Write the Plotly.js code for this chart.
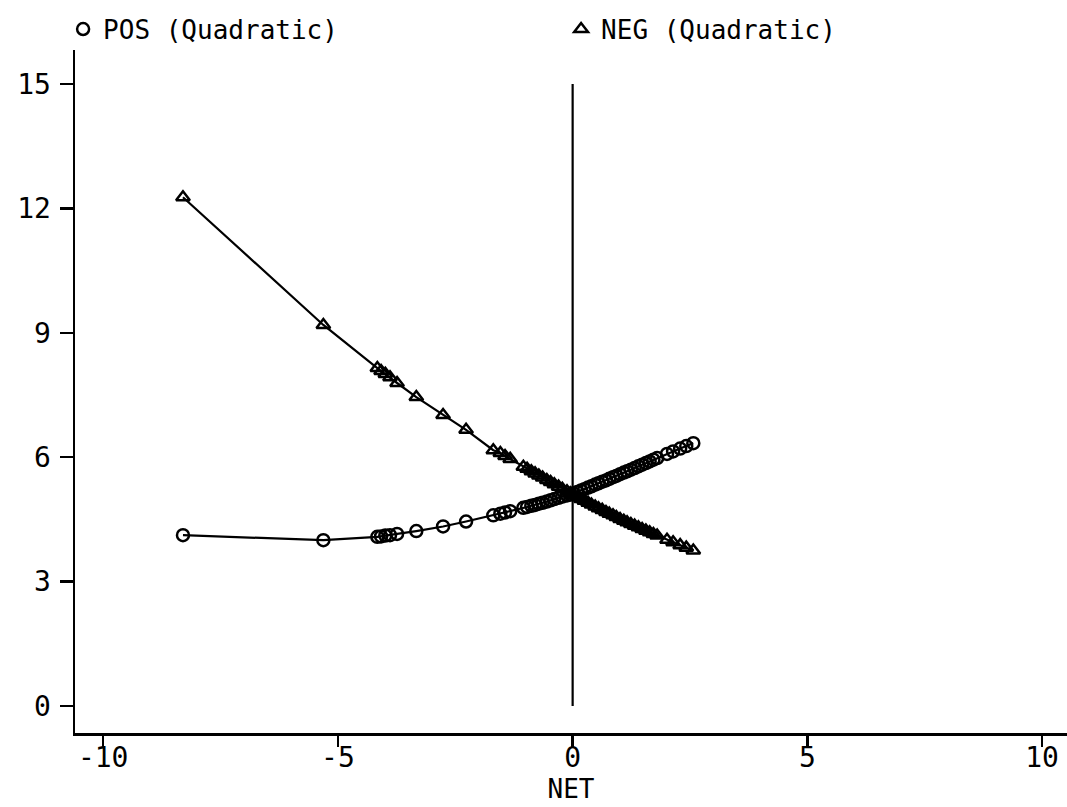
<!DOCTYPE html>
<html>
<head>
<meta charset="utf-8">
<script src="https://cdn.plot.ly/plotly-3.0.1.min.js"></script>
<style>html,body{margin:0;padding:0;background:#fff;}#chart{width:1067px;height:807px;}</style>
</head>
<body>
<div id="chart"></div>
<script>
// NET values (shared by both series)
const net = [-8.30, -5.31, -4.16, -4.08, -3.99, -3.89, -3.74, -3.33, -2.76, -2.27,
  -1.69, -1.54, -1.44, -1.33, -1.05, -0.97, -0.88, -0.80, -0.72, -0.64,
  -0.55, -0.47, -0.39, -0.30, -0.22, -0.12, -0.05, 0.02, 0.10, 0.18,
  0.25, 0.33, 0.40, 0.48, 0.55, 0.63, 0.71, 0.78, 0.86, 0.93,
  1.01, 1.09, 1.16, 1.24, 1.32, 1.40, 1.48, 1.56, 1.64, 1.72,
  1.80, 2.01, 2.14, 2.29, 2.42, 2.57];

// POS (Quadratic)
const pos = [4.12, 4.00, 4.08, 4.09, 4.11, 4.12, 4.15, 4.22, 4.33, 4.45,
  4.60, 4.64, 4.67, 4.70, 4.78, 4.80, 4.83, 4.85, 4.88, 4.90,
  4.93, 4.96, 4.99, 5.02, 5.05, 5.08, 5.10, 5.13, 5.16, 5.20,
  5.23, 5.27, 5.30, 5.34, 5.37, 5.41, 5.44, 5.48, 5.52, 5.55,
  5.59, 5.63, 5.66, 5.70, 5.74, 5.78, 5.82, 5.86, 5.90, 5.94,
  5.98, 6.08, 6.14, 6.21, 6.27, 6.34];

// NEG (Quadratic)
const neg = [12.27, 9.19, 8.15, 8.08, 8.01, 7.93, 7.79, 7.45, 7.02, 6.66,
  6.17, 6.10, 6.03, 5.96, 5.77, 5.72, 5.66, 5.61, 5.56, 5.51,
  5.45, 5.40, 5.35, 5.29, 5.24, 5.18, 5.13, 5.09, 5.04, 4.99,
  4.95, 4.90, 4.86, 4.81, 4.77, 4.73, 4.68, 4.64, 4.60, 4.56,
  4.51, 4.47, 4.43, 4.39, 4.35, 4.31, 4.27, 4.23, 4.19, 4.15,
  4.11, 4.01, 3.95, 3.88, 3.82, 3.75];

// reference line at NET = 0
const refX = [0, 0];
const refY = [0, 15];

const xTicks = [-10, -5, 0, 5, 10];
const yTicks = [0, 3, 6, 9, 12, 15];

const font = 'DejaVu Sans Mono, monospace';
const lineStyle = {color: '#000', width: 2.2};

const traces = [
  {x: refX, y: refY, mode: 'lines', line: lineStyle, showlegend: false, hoverinfo: 'skip'},
  {x: net, y: pos, mode: 'lines', line: lineStyle, showlegend: false},
  {x: net, y: neg, mode: 'lines', line: lineStyle, showlegend: false},
  {x: net, y: pos, mode: 'markers', name: 'POS (Quadratic)', legend: 'legend',
   marker: {symbol: 'circle-open', size: 12, color: '#000', line: {width: 2.5, color: '#000'}}},
  {x: net, y: neg, mode: 'markers', name: 'NEG (Quadratic)', legend: 'legend2',
   marker: {symbol: 'triangle-up-open', size: 12, color: '#000', line: {width: 2.5, color: '#000'}}}
];

const legendCommon = {orientation: 'h', xanchor: 'left', y: 1.065, yanchor: 'top',
  font: {family: font, size: 26, color: '#000'}, bgcolor: 'rgba(0,0,0,0)'};

const layout = {
  width: 1067, height: 807,
  margin: {l: 75, r: 0, t: 50, b: 74},
  paper_bgcolor: '#fff', plot_bgcolor: '#fff',
  font: {family: font, size: 26, color: '#000'},
  showlegend: true,
  legend: Object.assign({}, legendCommon, {x: -0.012}),
  legend2: Object.assign({}, legendCommon, {x: 0.49}),
  xaxis: {
    range: [-10.6, 10.53], tickvals: xTicks, ticktext: xTicks.map(String),
    showgrid: false, zeroline: false, showline: true, linecolor: '#000', linewidth: 2.5,
    ticks: 'outside', ticklen: 11, tickwidth: 2.5, tickcolor: '#000',
    tickfont: {family: font, size: 28}, ticklabelstandoff: -13,
    title: {text: 'NET', font: {family: font, size: 26}, standoff: 0}
  },
  yaxis: {
    range: [-0.65, 15.82], tickvals: yTicks, ticktext: yTicks.map(String),
    showgrid: false, zeroline: false, showline: true, linecolor: '#000', linewidth: 2.5,
    ticks: 'outside', ticklen: 13, tickwidth: 2.5, tickcolor: '#000',
    tickfont: {family: font, size: 28}, ticklabelstandoff: 3
  }
};

Plotly.newPlot('chart', traces, layout, {staticPlot: true, displayModeBar: false});
</script>
</body>
</html>
